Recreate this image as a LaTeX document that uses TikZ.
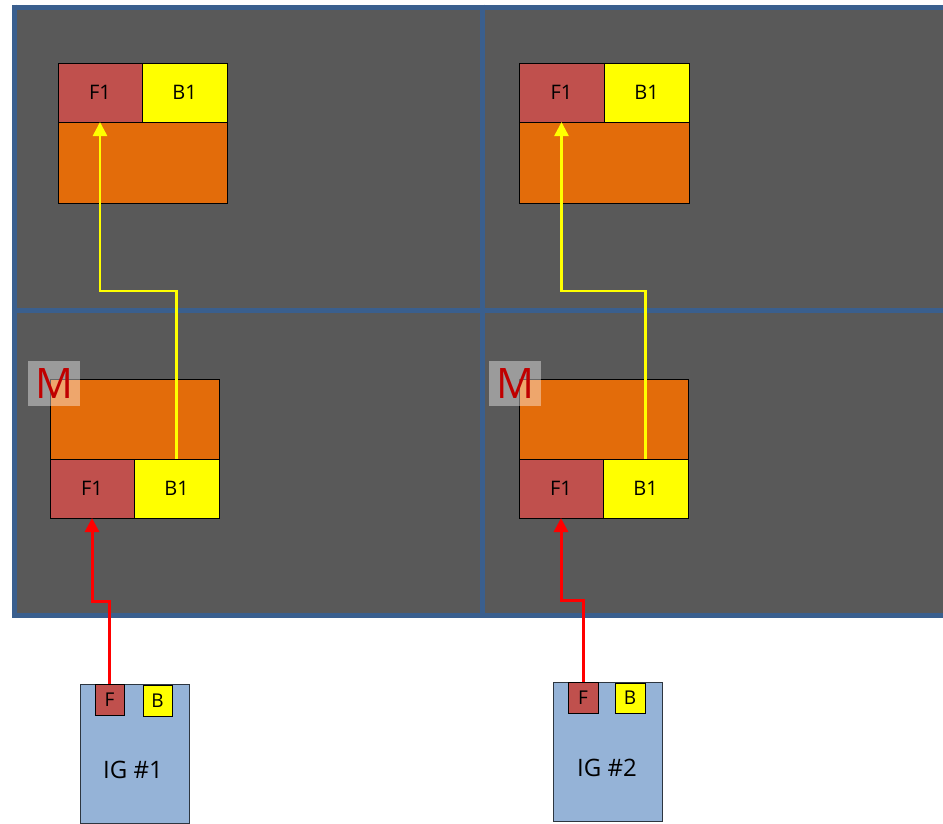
\documentclass[tikz,border=0pt]{standalone}
\usepackage{fontspec}
\setmainfont{Open Sans}
\usetikzlibrary{arrows.meta}
\definecolor{bgdark}{HTML}{595959}
\definecolor{gridblue}{HTML}{3A5F8E}
\definecolor{fred}{HTML}{C0504D}
\definecolor{byellow}{HTML}{FFFF00}
\definecolor{borange}{HTML}{E36C0A}
\definecolor{igblue}{HTML}{95B3D7}
\definecolor{mred}{HTML}{C00000}
\begin{document}
\begin{tikzpicture}[x=1pt,y=-1pt,
  base/.style={draw=black, line width=0.9pt, inner sep=0pt, outer sep=0pt, anchor=north west},
  obox/.style={base, fill=borange, minimum width=#1},
  fcell/.style={base, fill=fred, font=\fontsize{20}{22}\selectfont},
  bcell/.style={base, fill=byellow, font=\fontsize{20}{22}\selectfont},
  mbox/.style={fill=white, fill opacity=0.4, text opacity=1, text=mred, inner sep=0pt, outer sep=0pt,
    minimum width=52pt, minimum height=45pt, anchor=north west, font=\fontsize{42}{44}\selectfont},
  igbox/.style={draw=black!70!igblue, line width=0.9pt, fill=igblue, inner sep=0pt, outer sep=0pt,
    minimum width=109pt, minimum height=139pt, anchor=north west},
  smallcell/.style={base, minimum width=29pt, minimum height=31pt, font=\fontsize{19}{21}\selectfont},
  iglabel/.style={font=\fontsize{24}{26}\selectfont},
  yarrow/.style={draw=byellow, line width=2.6pt, -{Triangle[width=14pt,length=14pt]}},
  rarrow/.style={draw=red, line width=3pt, -{Triangle[width=14pt,length=14pt]}},
  gridline/.style={draw=gridblue, line width=5pt}
]
\useasboundingbox (0,0) rectangle (943,823);
\fill[white] (0,0) rectangle (943,823);

% panel background and grid
\fill[bgdark] (12,5) rectangle (950,617);
\draw[gridline] (14.5,7) -- (950,7);
\draw[gridline] (14.5,310) -- (950,310);
\draw[gridline] (14.5,615) -- (950,615);
\draw[gridline] (14.5,4.5) -- (14.5,617.5);
\draw[gridline] (482,4.5) -- (482,617.5);

% top-left unit
\node[obox=169pt, minimum height=81pt] (tlo) at (58,122) {};
\node[fcell, minimum width=84pt, minimum height=59pt] (tlf) at (58,63) {F1};
\node[bcell, minimum width=85pt, minimum height=59pt] (tlb) at (142,63) {B1};

% top-right unit
\node[obox=170pt, minimum height=81pt] (tro) at (519,122) {};
\node[fcell, minimum width=85pt, minimum height=59pt] (trf) at (519,63) {F1};
\node[bcell, minimum width=85pt, minimum height=59pt] (trb) at (604,63) {B1};

% bottom-left unit
\node[obox=169pt, minimum height=80pt] (blo) at (50,379) {};
\node[fcell, minimum width=84pt, minimum height=59pt] (blf) at (50,459) {F1};
\node[bcell, minimum width=85pt, minimum height=59pt] (blb) at (134,459) {B1};
\node[mbox] (ml) at (28,361) {M};

% bottom-right unit
\node[obox=169pt, minimum height=80pt] (bro) at (519,379) {};
\node[fcell, minimum width=84pt, minimum height=59pt] (brf) at (519,459) {F1};
\node[bcell, minimum width=85pt, minimum height=59pt] (brb) at (603,459) {B1};
\node[mbox] (mr) at (489,361) {M};

% IG boxes
\node[igbox] (ig1) at (80,684) {};
\node[smallcell, fill=fred] (ig1f) at (95,684) {F};
\node[smallcell, fill=byellow] (ig1b) at (143,685) {B};
\node[iglabel] (ig1t) at (133,770) {IG \#1};

\node[igbox] (ig2) at (553,682) {};
\node[smallcell, fill=fred, minimum width=30pt] (ig2f) at (568,682) {F};
\node[smallcell, fill=byellow, minimum width=30pt, minimum height=30pt] (ig2b) at (615,683) {B};
\node[iglabel] (ig2t) at (607,768) {IG \#2};

% routing levels
\coordinate (ylev) at (0,291);
\coordinate (rlev1) at (0,601);
\coordinate (rlev2) at (0,600);

% yellow connectors
\draw[yarrow] (blb.north) -- (blb.north |- ylev) -| (tlf.south);
\draw[yarrow] (brb.north) -- (brb.north |- ylev) -| (trf.south);

% red connectors
\draw[rarrow] (ig1f.north) -- (ig1f.north |- rlev1) -| (blf.south);
\draw[rarrow] (ig2f.north) -- (ig2f.north |- rlev2) -| (brf.south);
\end{tikzpicture}
\end{document}
